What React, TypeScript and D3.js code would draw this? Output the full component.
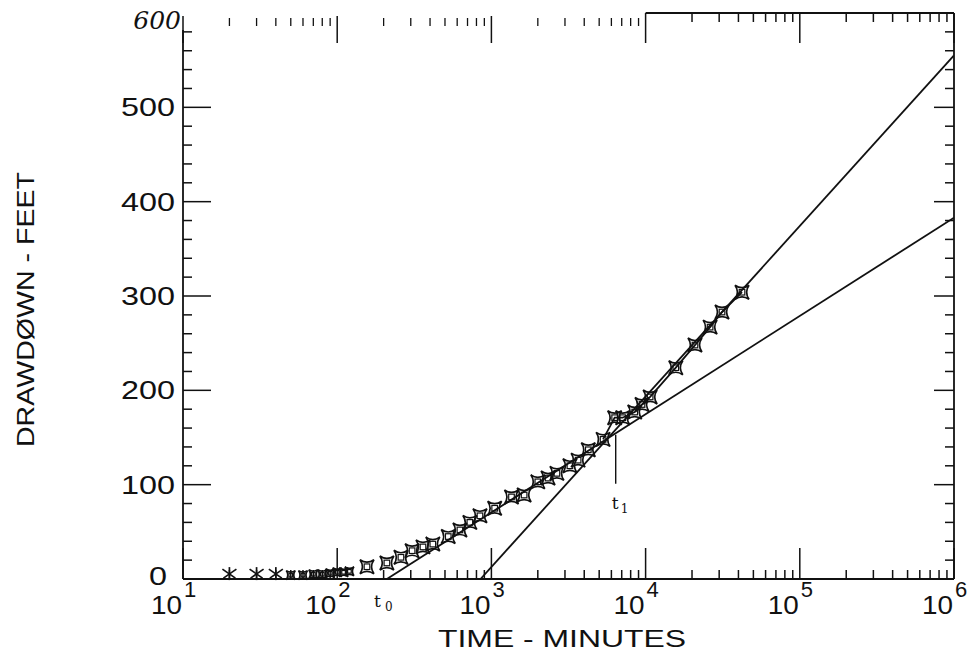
import React from "react";
import * as d3 from "d3";

// ---- data ----
const earlyTimes = [20, 30, 40];
const earlyValues = [2, 2, 2];
const clusterTimes = [50, 60, 70, 80, 90, 100, 110, 120];
const clusterValues = [2, 2, 3, 3, 4, 5, 5, 6];
const midTimes = [156, 210, 259, 306, 360, 417, 525, 625, 725, 843, 1050, 1350, 1630, 2000, 2330, 2660, 3230, 3650, 4250, 5300];
const midValues = [13, 17, 23, 30, 34, 37, 45, 52, 60, 67, 75, 87, 89, 103, 107, 112, 120, 126, 137, 148];
const upperTimes = [6300, 7100, 8500, 9480, 10700, 15700, 20900, 26200, 31300, 42200];
const upperValues = [171, 171, 177, 185, 193, 224, 248, 267, 283, 304];

// straight-line fits [time, drawdown]
const lineATimes = [210, 1e6];
const lineAValues = [0, 383];
const lineBTimes = [850, 1e6];
const lineBValues = [0, 555];

const t0Time = 210;
const t1Time = 6400;
const t1Values = [101, 153];

const decades = [1, 2, 3, 4, 5, 6];
const yTickLabels = [0, 100, 200, 300, 400, 500];
const xLabel = "TIME - MINUTES";
const yLabel = "DRAWDØWN - FEET";

const W = 976;
const H = 659;

function starPath(r: number) {
  const c = r * 0.3;
  return `M${-r},${-r} Q0,${-c} ${r},${-r} Q${c},0 ${r},${r} Q0,${c} ${-r},${r} Q${-c},0 ${-r},${-r}Z`;
}

export default function App() {
  const x = d3.scaleLog().domain([10, 1e6]).range([183, 954]);
  const y = d3.scaleLinear().domain([0, 600]).range([579, 13]);
  const ink = "#111";

  const minorX: number[] = [];
  for (let e = 1; e < 6; e++) {
    for (let m = 2; m <= 9; m++) minorX.push(m * Math.pow(10, e));
  }
  const minorY = d3.range(0, 601, 20);

  const line = d3
    .line<[number, number]>()
    .x((d) => x(d[0]))
    .y((d) => y(d[1]));

  const lineA = line(lineATimes.map((t, i) => [t, lineAValues[i]] as [number, number]));
  const lineB = line(lineBTimes.map((t, i) => [t, lineBValues[i]] as [number, number]));
  const upperLine = line(
    [[midTimes[midTimes.length - 1], midValues[midValues.length - 1]] as [number, number]].concat(
      upperTimes.map((t, i) => [t, upperValues[i]] as [number, number])
    )
  );

  const star = starPath(7);
  const smallStar = starPath(4.5);

  const marker = (key: string, cx: number, cy: number, d: string, sq: number) => (
    <g key={key} transform={`translate(${cx},${cy})`}>
      <path d={d} />
      <rect x={-sq} y={-sq} width={2 * sq} height={2 * sq} strokeWidth={1.2} />
    </g>
  );

  return (
    <svg
      width={W}
      height={H}
      style={{ position: "absolute", left: 0, top: 0, background: "#fff" }}
      fontFamily="Liberation Sans, Arial, sans-serif"
    >
      <defs>
        <clipPath id="plot">
          <rect x={183} y={13} width={771} height={566} />
        </clipPath>
      </defs>
      {/* frame */}
      <g stroke={ink} strokeWidth={1.8} fill="none">
        <line x1={183} y1={579} x2={954} y2={579} />
        <line x1={183} y1={30} x2={183} y2={579} />
        <line x1={954} y1={13} x2={954} y2={579} />
        <line x1={x(1e4)} y1={13} x2={954} y2={13} />
      </g>
      {/* bottom ticks */}
      <g stroke={ink} strokeWidth={1.5}>
        {minorX.map((t) => (
          <line key={"bm" + t} x1={x(t)} x2={x(t)} y1={579} y2={570} />
        ))}
        {decades.map((e) => (
          <line key={"bM" + e} x1={x(Math.pow(10, e))} x2={x(Math.pow(10, e))} y1={579} y2={548} />
        ))}
        {/* top ticks */}
        {minorX.map((t) =>
          t < 1e4 ? (
            <line key={"tm" + t} x1={x(t)} x2={x(t)} y1={18} y2={26} strokeWidth={1.3} />
          ) : (
            <line key={"tm" + t} x1={x(t)} x2={x(t)} y1={13} y2={22} />
          )
        )}
        {decades.map((e) => (
          <line key={"tM" + e} x1={x(Math.pow(10, e))} x2={x(Math.pow(10, e))} y1={e < 4 ? 16 : 13} y2={43} />
        ))}
        {/* left & right ticks */}
        {minorY.map((v) => {
          const major = v % 100 === 0;
          return (
            <g key={"y" + v}>
              {v >= 20 && v <= 580 ? (
                <line x1={183} x2={183 + (major ? 28 : 9)} y1={y(v)} y2={y(v)} />
              ) : null}
              {v >= 20 && v <= 580 ? (
                <line x1={954} x2={954 - (major ? 20 : 9)} y1={y(v)} y2={y(v)} />
              ) : null}
            </g>
          );
        })}
      </g>

      {/* y tick labels */}
      <g fill={ink} fontSize={25} textAnchor="end">
        {yTickLabels.map((v) => (
          <text
            key={"yl" + v}
            x={v === 0 ? 167 : 175}
            y={v === 0 ? 585 : y(v) + 9}
            textLength={String(v).length * 18}
            lengthAdjust="spacingAndGlyphs"
          >
            {v}
          </text>
        ))}
      </g>
      <text x={181} y={29} fontFamily="DejaVu Serif, serif" fontStyle="italic" fontSize={25} textAnchor="end" fill={ink}>
        600
      </text>

      {/* x tick labels */}
      <g fill={ink}>
        {decades.map((e) => {
          const px = x(Math.pow(10, e));
          return (
            <g key={"xl" + e}>
              <text x={px - 1} y={614} fontSize={26} textAnchor="end" textLength={31} lengthAdjust="spacingAndGlyphs">
                10
              </text>
              <text x={px + 1} y={597} fontSize={22} textAnchor="start">
                {e}
              </text>
            </g>
          );
        })}
      </g>

      {/* axis titles */}
      <text x={438} y={647} fontSize={24} fill={ink} textLength={248} lengthAdjust="spacingAndGlyphs">
        {xLabel}
      </text>
      <text
        transform="translate(34,447) rotate(-90)"
        x={0}
        y={0}
        fontSize={24}
        fill={ink}
        textLength={275}
        lengthAdjust="spacingAndGlyphs"
      >
        {yLabel}
      </text>

      {/* fitted lines */}
      <g clipPath="url(#plot)" stroke={ink} strokeWidth={1.8} fill="none">
        <path d={lineA || ""} />
        <path d={lineB || ""} />
        <path d={upperLine || ""} />
        <line x1={x(t1Time)} x2={x(t1Time)} y1={y(t1Values[0])} y2={y(t1Values[1])} strokeWidth={1.4} />
      </g>

      {/* t0, t1 labels */}
      <g fill={ink} fontFamily="DejaVu Serif, serif">
        <text x={x(t0Time) - 13} y={607} fontSize={17}>t</text>
        <text x={x(t0Time) - 2} y={611} fontSize={12}>0</text>
        <text x={x(t1Time) - 4} y={509} fontSize={17}>t</text>
        <text x={x(t1Time) + 5} y={513} fontSize={12}>1</text>
      </g>

      {/* data markers */}
      <g stroke={ink} strokeWidth={1.7} fill="none">
        {earlyTimes.map((t, i) => {
          const cx = x(t);
          const cy = y(earlyValues[i]) - 3;
          return (
            <g key={"e" + t} transform={`translate(${cx},${cy})`}>
              <line x1={0} y1={-7} x2={0} y2={6} />
              <line x1={-7} y1={-5} x2={6} y2={4} />
              <line x1={7} y1={-5} x2={-6} y2={4} />
            </g>
          );
        })}
        {clusterTimes.map((t, i) => marker("c" + t, x(t), y(clusterValues[i]) - 2, smallStar, 1.8))}
        {midTimes.map((t, i) => marker("m" + t, x(t), y(midValues[i]), star, 2.8))}
        {upperTimes.map((t, i) => marker("u" + t, x(t), y(upperValues[i]), star, 2.8))}
      </g>
    </svg>
  );
}
